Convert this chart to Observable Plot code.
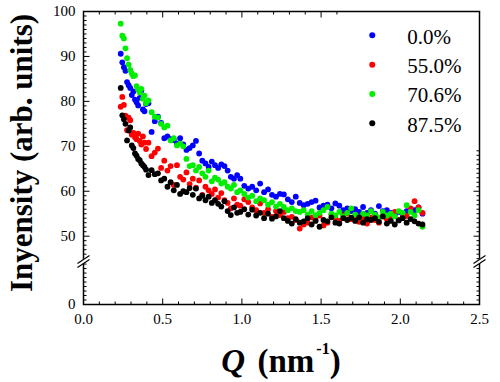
<!DOCTYPE html>
<html><head><meta charset="utf-8">
<script src="https://cdn.jsdelivr.net/npm/d3@7"></script>
<script src="https://cdn.jsdelivr.net/npm/@observablehq/plot@0.6"></script>
<style>html,body{margin:0;padding:0;background:#fff;} svg{display:block;} svg text{font-family: "Liberation Serif", "Times New Roman", Times, Tinos, "Noto Serif", "Nimbus Roman", FreeSerif, "DejaVu Serif", serif !important;}</style>
</head><body><div id="chart"></div>
<script>
// Q values (nm^-1), shared by all series
const q = [
  0.235,0.245,0.255,0.265,0.275,0.285,0.295,0.305,0.315,0.325,
  0.335,0.345,0.355,0.365,0.375,0.385,0.395,0.41,0.43,0.45,
  0.47,0.49,0.51,0.53,0.55,0.57,0.59,0.61,0.63,0.65,
  0.67,0.69,0.71,0.73,0.75,0.77,0.79,0.81,0.83,0.85,
  0.87,0.89,0.91,0.93,0.95,0.97,0.99,1.015,1.04,1.065,
  1.09,1.115,1.14,1.165,1.19,1.215,1.24,1.265,1.29,1.315,
  1.34,1.365,1.39,1.415,1.44,1.465,1.49,1.515,1.54,1.565,
  1.59,1.615,1.64,1.665,1.69,1.715,1.74,1.765,1.79,1.815,
  1.84,1.865,1.89,1.915,1.94,1.965,1.99,2.015,2.04,2.065,
  2.09,2.115,2.14
];
const int00 = [
  90.6,88.7,87.6,86.8,84.3,83.6,83.0,81.4,82.2,80.4,
  79.8,79.1,80.8,82.4,78.2,77.8,79.4,79.6,73.2,75.6,
  76.6,75.2,71.8,72.2,71.6,71.4,70.6,71.8,70.4,69.2,
  69.6,70.2,71.2,68.4,66.8,66.2,65.4,66.6,65.8,65.2,
  66.0,65.6,64.6,63.2,62.8,63.6,62.8,61.2,60.6,61.0,
  60.2,61.7,59.8,60.4,59.2,58.8,59.4,59.3,58.2,57.6,
  58.8,57.4,56.9,57.2,57.6,57.9,56.4,56.8,57.0,56.2,
  57.3,56.8,55.8,56.2,55.6,56.0,55.4,56.5,55.2,55.8,
  55.0,56.7,55.6,55.8,55.2,54.8,55.4,55.0,55.6,56.0,
  55.8,56.4,55.0
];
const int550 = [
  78.8,81.0,79.2,76.8,73.6,76.4,75.8,72.6,73.0,72.0,
  71.6,72.8,71.2,70.4,72.2,70.8,69.4,70.8,67.8,68.6,
  69.5,65.2,66.8,64.6,65.6,61.4,65.8,63.2,62.6,64.2,
  61.6,62.8,60.8,62.4,59.2,61.0,60.2,59.4,60.4,58.6,
  59.6,58.0,57.4,56.2,58.4,57.0,56.8,58.2,57.6,56.4,
  55.8,57.3,55.2,56.0,54.3,55.6,54.7,55.4,54.0,54.3,
  53.6,51.7,52.6,53.0,54.2,53.6,54.6,52.4,53.0,54.8,
  54.0,53.4,54.6,55.0,53.8,54.4,53.2,54.0,52.8,54.2,
  53.6,53.0,54.4,53.8,54.6,55.4,53.6,54.2,54.5,56.2,
  57.8,56.4,55.2
];
const int706 = [
  97.3,94.6,94.0,91.8,89.6,88.2,87.0,86.2,85.6,85.8,
  83.4,82.6,82.0,82.8,80.6,81.3,79.6,80.2,77.6,76.6,
  76.4,75.0,74.2,74.6,71.3,71.8,70.2,70.6,70.0,67.2,
  65.6,65.8,64.6,65.4,64.0,63.2,64.6,62.2,63.0,62.6,
  61.7,62.0,61.0,60.6,61.4,59.8,60.2,59.4,58.6,59.0,
  57.8,58.4,58.0,57.0,57.6,56.6,57.2,56.5,55.8,56.2,
  55.6,55.4,55.8,54.8,55.6,54.7,55.2,55.8,56.5,55.0,
  54.6,55.4,54.4,55.2,56.2,54.8,54.2,55.0,54.6,55.6,
  54.8,54.2,55.4,54.6,55.0,54.4,55.6,55.2,56.9,55.4,
  54.6,55.8,52.1
];
const int875 = [
  83.0,76.9,76.0,75.0,71.3,73.5,74.2,70.2,69.6,68.4,
  67.9,67.2,66.9,66.2,65.8,65.4,64.8,63.6,64.7,63.8,
  64.0,62.4,62.8,61.0,62.0,60.2,61.4,59.4,60.0,59.8,
  60.7,59.2,60.6,58.4,59.0,58.0,58.8,57.4,58.0,57.2,
  56.6,57.8,55.6,54.7,56.4,55.2,55.4,56.0,54.8,55.9,
  54.6,55.2,54.0,55.0,53.9,54.4,55.6,54.0,53.4,52.8,
  53.8,53.0,53.3,54.0,52.6,53.4,52.1,53.6,53.3,54.2,
  53.0,52.8,54.0,53.6,54.1,53.4,54.2,53.0,53.8,53.6,
  54.0,53.2,54.4,52.8,53.4,52.6,53.5,54.0,53.0,53.8,
  53.3,52.8,52.6
];
const seriesNames = ["0.0%", "55.0%", "70.6%", "87.5%"];
const seriesColors = ["#0000ff", "#ff0000", "#00ee00", "#000000"];
const xMajorTicks = [0, 0.5, 1.0, 1.5, 2.0, 2.5];
const xTickLabels = ["0.0", "0.5", "1.0", "1.5", "2.0", "2.5"];
const yMajorTicks = [0, 50, 60, 70, 80, 90, 100];
const yTickLabels = ["0", "50", "60", "70", "80", "90", "100"];

// broken y axis: 0–9.8 below the break, 44.6–100 above it
const breakLo = 9.8, breakHi = 44.6;
const yb = v => v <= breakLo ? v : v >= breakHi ? v - (breakHi - breakLo) : breakLo;

const seriesValues = [int00, int550, int706, int875];
const points = seriesNames.flatMap((name, s) =>
  q.map((x, i) => ({x, y: seriesValues[s][i], color: seriesColors[s]})));

// tick layout
const xMinor = d3.range(0, 26).map(i => i / 10).filter(v => Math.abs(v * 2 - Math.round(v * 2)) > 1e-9);
const xTopMajor = xMajorTicks.filter(v => v <= 1.6);
const xTopMinor = xMinor.filter(v => v <= 1.61);
const yMinor = d3.range(1, 10).concat(d3.range(45, 100).filter(v => v % 10 !== 0));
const yRightMajor = yMajorTicks.filter(v => v <= 69);
const yRightMinor = yMinor.filter(v => v <= 69);

const tickShape = {draw(c, l) { c.moveTo(0, 0); c.lineTo(0, -l); }};
const breakMask = {draw(c) { c.moveTo(-5, 4); c.lineTo(5, -3); }};
const breakShape = {draw(c) { c.moveTo(-6, 3); c.lineTo(6, -5); c.moveTo(-6, 7); c.lineTo(6, -1); }};
const tk = {anchor: "start", shape: tickShape, stroke: "black", strokeWidth: 1, strokeLinecap: "butt"};

const chart = Plot.plot({
  width: 500, height: 382,
  marginLeft: 83, marginRight: 21, marginTop: 11, marginBottom: 78,
  style: {background: "white", color: "black"},
  x: {domain: [0, 2.5], axis: null},
  y: {domain: [0, yb(100)], axis: null},
  color: {type: "identity"},
  marks: [
    Plot.dot(points, {x: "x", y: d => yb(d.y), fill: "color", r: 2.9}),
    Plot.frame({stroke: "black", strokeWidth: 1.5}),
    // bottom ticks
    Plot.vector(xMajorTicks, {x: d => d, y: 0, length: 6, rotate: 0, ...tk}),
    Plot.vector(xMinor, {x: d => d, y: 0, length: 3, rotate: 0, ...tk}),
    // top ticks
    Plot.vector(xTopMajor, {x: d => d, y: yb(100), length: 6, rotate: 180, ...tk}),
    Plot.vector(xTopMinor, {x: d => d, y: yb(100), length: 3, rotate: 180, ...tk}),
    // left ticks
    Plot.vector(yMajorTicks, {x: 0, y: d => yb(d), length: 6, rotate: 90, ...tk}),
    Plot.vector(yMinor, {x: 0, y: d => yb(d), length: 3, rotate: 90, ...tk}),
    // right ticks
    Plot.vector(yRightMajor, {x: 2.5, y: d => yb(d), length: 6, rotate: -90, ...tk}),
    Plot.vector(yRightMinor, {x: 2.5, y: d => yb(d), length: 3, rotate: -90, ...tk}),
    // axis breaks
    Plot.vector([0, 2.5], {x: d => d, y: yb(breakLo), anchor: "start", shape: breakMask, stroke: "white", strokeWidth: 3.5, strokeLinecap: "butt"}),
    Plot.vector([0, 2.5], {x: d => d, y: yb(breakLo), anchor: "start", shape: breakShape, stroke: "black", strokeWidth: 1.2, strokeLinecap: "butt"}),
    // tick labels
    Plot.text(xMajorTicks, {x: d => d, y: 0, text: (d, i) => xTickLabels[i], dy: 15, fontSize: 15, fill: "black"}),
    Plot.text(yMajorTicks, {x: 0, y: d => yb(d), text: (d, i) => yTickLabels[i], textAnchor: "end", dx: -8, fontSize: 15, fill: "black"}),
    // legend
    Plot.dot(seriesNames, {x: 1.823, y: (d, i) => yb(94.7 - 6.53 * i), fill: (d, i) => seriesColors[i], r: 3}),
    Plot.text(seriesNames, {x: 1.823, y: (d, i) => yb(94.7 - 6.53 * i), text: d => d, dx: 35, dy: 1.5, textAnchor: "start", fontSize: 21, fill: "black"})
  ]
});

const svg = d3.select(chart);
svg.append("text")
  .attr("transform", "translate(32,153) rotate(-90)")
  .attr("text-anchor", "middle")
  .attr("font-weight", "bold")
  .attr("font-size", 31)
  .attr("fill", "black")
  .text("Inyensity (arb. units)");
const xt = svg.append("text")
  .attr("x", 281).attr("y", 372)
  .attr("text-anchor", "middle")
  .attr("font-weight", "bold")
  .attr("font-size", 33)
  .attr("fill", "black");
xt.append("tspan").attr("font-style", "italic").text("Q");
xt.append("tspan").attr("dx", 4).text("\u00a0(nm");
xt.append("tspan").attr("font-size", 16).attr("dy", -18).attr("dx", 2).text("-1");
xt.append("tspan").attr("dy", 18).text(")");

document.getElementById("chart").appendChild(chart);
</script>
</body></html>
